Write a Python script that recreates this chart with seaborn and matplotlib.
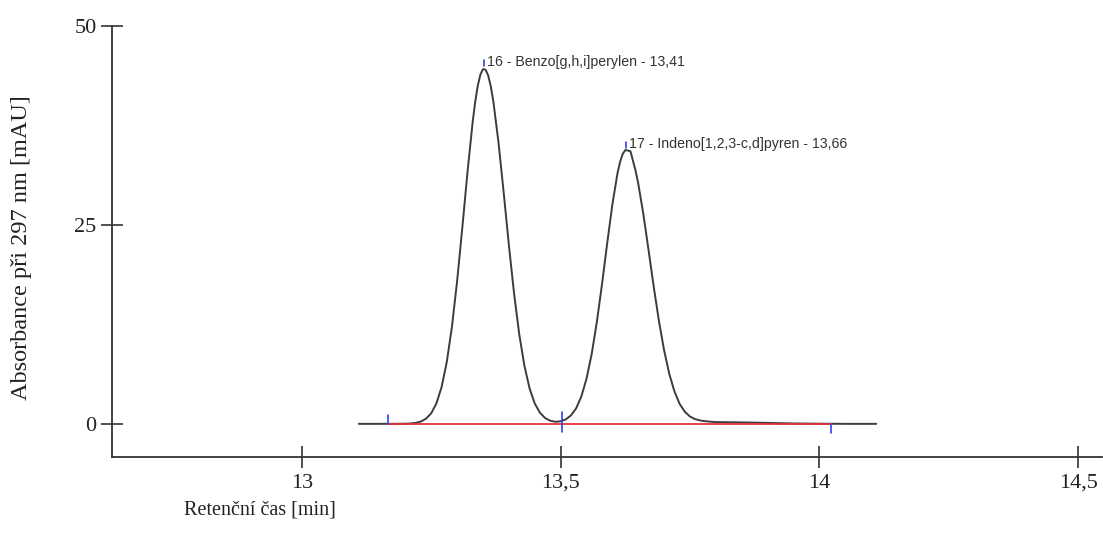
import numpy as np
import pandas as pd
import seaborn as sns
import matplotlib
matplotlib.use("Agg")
import matplotlib.pyplot as plt
from matplotlib.ticker import FixedLocator, FuncFormatter

# chromatogram (min, mAU)
rt = [13.11, 13.15, 13.19, 13.20, 13.21, 13.22, 13.23, 13.24, 13.25, 13.26,
      13.27, 13.28, 13.29, 13.30, 13.31, 13.32, 13.33, 13.335, 13.34, 13.345,
      13.35, 13.355, 13.36, 13.365,
      13.37, 13.38, 13.39, 13.40, 13.41, 13.42, 13.43, 13.44, 13.45, 13.46,
      13.47, 13.48, 13.49, 13.50, 13.51, 13.52, 13.53, 13.54, 13.55, 13.56,
      13.57, 13.58, 13.59, 13.60, 13.61, 13.615, 13.62, 13.625, 13.63, 13.635,
      13.64, 13.645, 13.65, 13.66,
      13.67, 13.68, 13.69, 13.70, 13.71, 13.72, 13.73, 13.74, 13.75, 13.76,
      13.77, 13.78, 13.79, 13.80, 13.85, 13.90, 13.95, 14.00, 14.05, 14.11]
absorb = [0.0, 0.0, 0.01, 0.02, 0.05, 0.12, 0.29, 0.65, 1.33, 2.57,
          4.62, 7.76, 12.19, 17.92, 24.60, 31.57, 37.88, 40.46, 42.49, 43.87,
          44.54, 44.48, 43.76, 42.41,
          40.50, 35.32, 29.03, 22.47, 16.40, 11.27, 7.30, 4.46, 2.56, 1.40,
          0.73, 0.39, 0.26, 0.32, 0.56, 1.06, 1.95, 3.42, 5.65, 8.75,
          12.78, 17.54, 22.66, 27.54, 31.50, 32.92, 33.89, 34.38, 34.32, 34.23,
          32.99, 31.75, 30.19, 26.29,
          21.79, 17.19, 12.91, 9.23, 6.28, 4.07, 2.51, 1.52, 0.92, 0.59,
          0.42, 0.33, 0.27, 0.22, 0.18, 0.12, 0.05, 0.02, 0.0, 0.0]

# integration baseline and its marks
base_start, base_valley, base_end = 13.166, 13.502, 14.022

# peak labels
peak_rt = [13.352, 13.627]
peak_top = [44.9, 34.6]
peak_names = ["16 - Benzo[g,h,i]perylen - 13,41",
              "17 - Indeno[1,2,3-c,d]pyren - 13,66"]

xticks = [13.0, 13.5, 14.0, 14.5]
yticks = [0, 25, 50]

sns.set_style("ticks")
plt.rcParams['font.family'] = ['Liberation Serif', 'DejaVu Serif']

df = pd.DataFrame({"rt": rt, "abs": absorb})

fig = plt.figure(figsize=(11.03, 5.5), dpi=100)
ax = fig.add_axes([0.1015, 0.17, 0.8975, 0.7833])

sns.lineplot(data=df, x="rt", y="abs", ax=ax, color="#3c3c3c", linewidth=1.4)

# red baseline
ax.plot([base_start, base_end], [0, 0], color="#e8303a", linewidth=1.3, zorder=3)

# blue integration marks
blue = "#3344dd"
ax.plot([base_start, base_start], [0, 1.1], color=blue, linewidth=1.2, zorder=4)
ax.plot([base_valley, base_valley], [-1.0, 1.5], color=blue, linewidth=1.2, zorder=4)
ax.plot([base_end, base_end], [0, -1.1], color=blue, linewidth=1.2, zorder=4)

for x, top, name in zip(peak_rt, peak_top, peak_names):
    ax.plot([x, x], [top, top + 0.8], color=blue, linewidth=1.2)
    ax.text(x + 0.006, top + 0.6, name, fontsize=10.2, color="#333333",
            family=["Liberation Sans", "DejaVu Sans"], va="center", ha="left")

ax.set_xlim(12.633, 14.546)
ax.set_ylim(-4.1, 50)

ax.xaxis.set_major_locator(FixedLocator(xticks))
ax.yaxis.set_major_locator(FixedLocator(yticks))
ax.xaxis.set_major_formatter(FuncFormatter(lambda v, p: f"{v:g}".replace(".", ",")))
ax.tick_params(direction="inout", length=16, width=1.2, color="#333333",
               labelsize=16, labelcolor="#222222")
ax.tick_params(axis="x", pad=4.5)
ax.tick_params(axis="y", pad=3)

sns.despine(ax=ax)
for s in ["left", "bottom"]:
    ax.spines[s].set_color("#333333")
    ax.spines[s].set_linewidth(1.3)

ax.set_xlabel("Retenční čas [min]", fontsize=14.5, color="#222222")
ax.set_ylabel("Absorbance při 297 nm [mAU]", fontsize=17.5, color="#222222")
ax.xaxis.set_label_coords(0.149, -0.103)
ax.yaxis.set_label_coords(-0.081, 0.484)

fig.savefig("out.png", dpi=100)
